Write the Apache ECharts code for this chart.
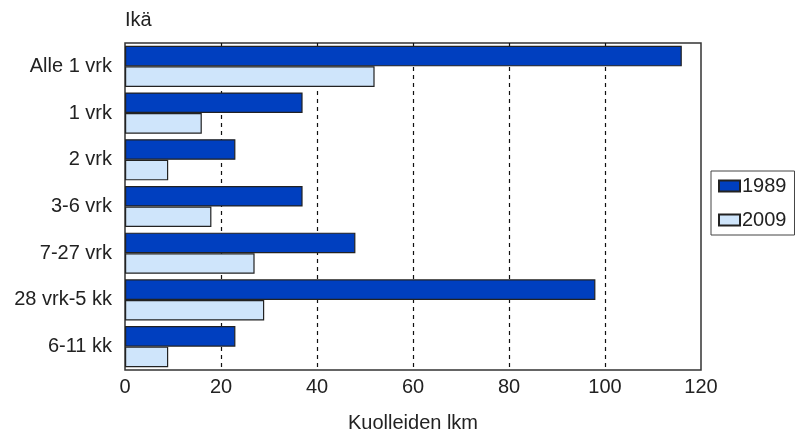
<!DOCTYPE html>
<html>
<head>
<meta charset="utf-8">
<script src="https://cdn.jsdelivr.net/npm/echarts@6/dist/echarts.min.js"></script>
<style>html,body{margin:0;padding:0;background:#fff;}#c{width:795px;height:432px;}</style>
</head>
<body>
<div id="c"></div>
<script>
const categories = ['Alle 1 vrk', '1 vrk', '2 vrk', '3-6 vrk', '7-27 vrk', '28 vrk-5 kk', '6-11 kk'];
const values1989 = [116, 37, 23, 37, 48, 98, 23];
const values2009 = [52, 16, 9, 18, 27, 29, 9];
const xTicks = { min: 0, max: 120, interval: 20 };

const font = 'Liberation Sans, Arial, sans-serif';
const fs = 20;
const chart = echarts.init(document.getElementById('c'), null, { renderer: 'canvas' });
chart.setOption({
  animation: false,
  backgroundColor: '#fff',
  textStyle: { fontFamily: font },
  grid: { left: 125, right: 94, top: 43, bottom: 62, containLabel: false, outerBoundsMode: 'none',
    show: true, borderColor: '#333', borderWidth: 1.5, backgroundColor: 'transparent' },
  legend: {
    orient: 'vertical', left: 711, top: 171,
    borderColor: '#444', borderWidth: 1, padding: [5, 8, 5, 7],
    itemWidth: 21, itemHeight: 11, itemGap: 14,
    icon: 'rect',
    textStyle: { fontSize: fs, color: '#222', fontFamily: font, padding: [0, 0, 0, -3] },
    data: ['1989', '2009']
  },
  xAxis: {
    type: 'value', min: xTicks.min, max: xTicks.max, interval: xTicks.interval,
    name: 'Kuolleiden lkm', nameLocation: 'middle', nameGap: 43,
    nameTextStyle: { fontSize: fs, color: '#222' },
    axisLine: { show: false }, axisTick: { show: false },
    axisLabel: { fontSize: fs, color: '#222', margin: 7 },
    splitLine: { show: true, showMinLine: false, showMaxLine: false,
      lineStyle: { color: '#111', type: [4, 4], width: 1.2 } }
  },
  yAxis: {
    type: 'category', inverse: true, data: categories,
    name: 'Ikä', nameLocation: 'start', nameGap: 13,
    nameTextStyle: { fontSize: fs, color: '#222', align: 'left' },
    axisLine: { show: false }, axisTick: { show: false },
    axisLabel: { fontSize: fs, color: '#222', margin: 13 },
    splitLine: { show: false }
  },
  series: [
    { name: '1989', type: 'bar', data: values1989, barGap: '0%', barCategoryGap: '12%',
      itemStyle: { color: '#003fbf', borderColor: '#222', borderWidth: 1.2 } },
    { name: '2009', type: 'bar', data: values2009,
      itemStyle: { color: '#cfe5fb', borderColor: '#222', borderWidth: 1.2 } }
  ]
});
</script>
</body>
</html>
